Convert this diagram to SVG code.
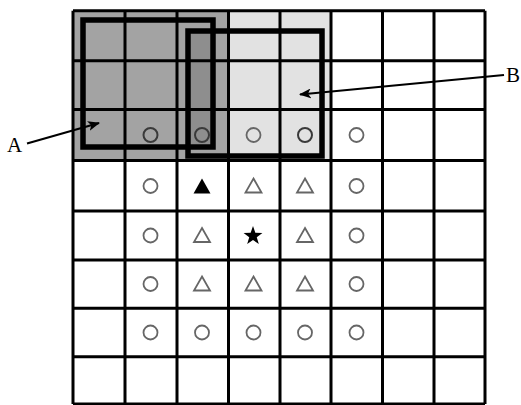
<svg xmlns="http://www.w3.org/2000/svg" xmlns:xlink="http://www.w3.org/1999/xlink" width="521" height="405" viewBox="0 0 521 405">
<style>
.grid{stroke:#000;stroke-width:3;fill:none}
.box{stroke:#000;stroke-width:5.5;fill:none}
.circ{fill:none;stroke:#666;stroke-width:1.8}
.circd{fill:none;stroke:#3a3a3a;stroke-width:2}
.tri{fill:none;stroke:#666;stroke-width:1.8;stroke-linejoin:miter}
.lbl{font-family:"Liberation Serif",serif;font-size:21px;fill:#000}
.arr{stroke:#000;stroke-width:2.2;fill:none}
</style>
<defs>
<circle id="c" r="7" class="circ"/>
<circle id="cd" r="7" class="circd"/>
<path id="t" d="M0,-7.5 L8,6.5 L-8,6.5 Z" class="tri"/>
<marker id="ah" markerWidth="12" markerHeight="10" refX="11" refY="5" orient="auto" markerUnits="userSpaceOnUse">
<path d="M0,0 L12,5 L0,10 L3,5 Z" fill="#000"/>
</marker>
</defs>
<rect width="521" height="405" fill="#fff"/>
<g id="regionA">
<rect x="73" y="10.7" width="155.5" height="149.8" fill="#a3a3a3"/>
<rect x="188" y="31" width="25" height="116" fill="#8e8e8e"/>
</g>
<g id="regionB">
<rect x="228.5" y="10.7" width="102.5" height="149.8" fill="#e2e2e2"/>
</g>
<g id="grid" class="grid">
<path d="M73,10.7V404 M125,10.7V404 M177,10.7V404 M228.5,10.7V404 M280,10.7V404 M331,10.7V404 M382.5,10.7V404 M434,10.7V404 M485,10.7V404"/>
<path d="M73,10.7H485 M73,60.7H485 M73,109.5H485 M73,160.5H485 M73,211H485 M73,260H485 M73,308.3H485 M73,356.7H485 M73,404H485"/>
</g>
<g id="boxA"><rect class="box" x="83" y="20" width="130" height="127"/></g>
<g id="boxB"><rect class="box" x="188" y="31" width="134" height="125"/></g>
<g id="symbols">
<use xlink:href="#cd" x="150.5" y="135"/><use xlink:href="#cd" x="202" y="135"/><use xlink:href="#c" x="253.5" y="135"/><use xlink:href="#cd" x="305" y="135"/><use xlink:href="#c" x="356.5" y="135"/>
<use xlink:href="#c" x="150.5" y="186"/>
<path d="M202,178.5 L210.5,193.5 L193.5,193.5 Z" fill="#000"/>
<use xlink:href="#t" x="253.5" y="186"/><use xlink:href="#t" x="305" y="186"/>
<use xlink:href="#c" x="356.5" y="186"/>
<use xlink:href="#c" x="150.5" y="235.5"/>
<use xlink:href="#t" x="202" y="235.5"/>
<polygon transform="translate(253,236) scale(1.1)" points="0,-9 2.12,-2.91 8.56,-2.78 3.42,1.11 5.29,7.28 0,3.6 -5.29,7.28 -3.42,1.11 -8.56,-2.78 -2.12,-2.91" fill="#000"/>
<use xlink:href="#t" x="305" y="235.5"/>
<use xlink:href="#c" x="356.5" y="235.5"/>
<use xlink:href="#c" x="150.5" y="284"/>
<use xlink:href="#t" x="202" y="284"/><use xlink:href="#t" x="253.5" y="284"/><use xlink:href="#t" x="305" y="284"/>
<use xlink:href="#c" x="356.5" y="284"/>
<use xlink:href="#c" x="150.5" y="332.5"/><use xlink:href="#c" x="202" y="332.5"/><use xlink:href="#c" x="253.5" y="332.5"/><use xlink:href="#c" x="305" y="332.5"/><use xlink:href="#c" x="356.5" y="332.5"/>
</g>
<g id="labelA"><text class="lbl" x="7" y="152">A</text></g>
<g id="labelB"><text class="lbl" x="506" y="82">B</text></g>
<g id="connectors">
<line class="arr" x1="27" y1="143.5" x2="99" y2="123" marker-end="url(#ah)"/>
<line class="arr" x1="504" y1="75" x2="300" y2="94.5" marker-end="url(#ah)"/>
</g>
</svg>
